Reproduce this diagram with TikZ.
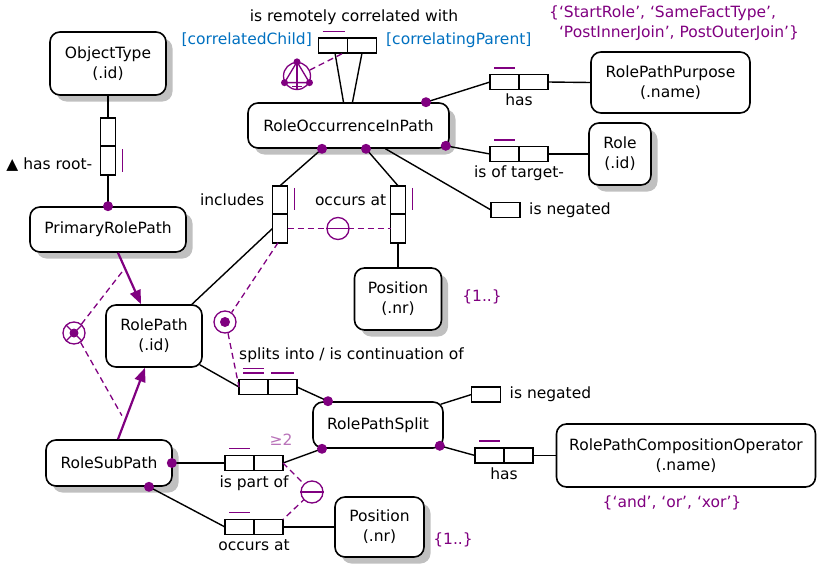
\documentclass[tikz,border=0pt]{standalone}
\usepackage{fontspec}
\setmainfont{DejaVu Sans}
\usepackage{tikz}
\usetikzlibrary{positioning,shapes,arrows.meta,shadows}

\definecolor{ormpurple}{RGB}{128,0,128}
\definecolor{ormblue}{RGB}{0,112,192}
\definecolor{shadegray}{RGB}{192,192,192}

\tikzset{
	entity/.style={draw, line width=1.6pt, rounded corners=10pt, fill=white, align=center, inner sep=0pt, font=\fontsize{15.5}{20}\selectfont},
	shadowed/.style={drop shadow={shadow xshift=6.5pt, shadow yshift=-6.5pt, fill=shadegray, opacity=1}},
	hrole/.style={draw, line width=1.6pt, fill=white, minimum width=29pt, minimum height=15pt, inner sep=0pt, outer sep=0pt},
	vrole/.style={draw, line width=1.6pt, fill=white, minimum width=15pt, minimum height=28.5pt, inner sep=0pt, outer sep=0pt},
	mand/.style={circle, fill=ormpurple, inner sep=0pt, minimum size=10pt},
	ubar/.style={ormpurple, line width=1.8pt},
	conn/.style={line width=1.4pt},
	cons/.style={ormpurple, line width=1.3pt, dash pattern=on 6pt off 4pt},
	conscirc/.style={circle, draw=ormpurple, line width=1.3pt, fill=white, minimum size=22pt, inner sep=0pt},
	subtype/.style={ormpurple, line width=2.2pt, -{Triangle[length=14pt, width=11pt]}},
	lbl/.style={font=\fontsize{15.5}{20}\selectfont, inner sep=0pt},
}

\begin{document}
\begin{tikzpicture}[x=1pt, y=-1pt]
	\useasboundingbox (0,0) rectangle (817,565);

	% Object types
	\node[entity, shadowed, minimum width=116pt, minimum height=63pt] (objecttype) at (108,63.5) {ObjectType\\(.id)};
	\node[entity, shadowed, minimum width=156pt, minimum height=45pt] (primary) at (108,229.5) {PrimaryRolePath};
	\node[entity, shadowed, minimum width=201pt, minimum height=45pt] (occurrence) at (348.5,125.5) {RoleOccurrenceInPath};
	\node[entity, minimum width=159pt, minimum height=61pt] (purpose) at (670.5,82.5) {RolePathPurpose\\(.name)};
	\node[entity, shadowed, minimum width=62pt, minimum height=62pt] (role) at (620,154) {Role\\(.id)};
	\node[entity, shadowed, minimum width=87pt, minimum height=62pt] (position) at (398,299) {Position\\(.nr)};
	\node[entity, minimum width=96pt, minimum height=62pt] (rolepath) at (154,336) {RolePath\\(.id)};
	\node[entity, minimum width=130pt, minimum height=46pt] (split) at (378,425) {RolePathSplit};
	\node[entity, minimum width=259pt, minimum height=63pt] (operator) at (686,455.5) {RolePathCompositionOperator\\(.name)};
	\node[entity, shadowed, minimum width=126pt, minimum height=46pt] (subpath) at (109,463) {RoleSubPath};
	\node[entity, shadowed, minimum width=89pt, minimum height=60pt] (position2) at (379.5,527) {Position\\(.nr)};

	% Value constraints
	\node[lbl, ormpurple, anchor=west, align=left] (purposevals) at (549,23) {\{‘StartRole’, ‘SameFactType’,\\\hphantom{\{}‘PostInnerJoin’, PostOuterJoin’\}};
	\node[lbl, ormpurple] (positionvals) at (482,297) {\{1..\}};
	\node[lbl, ormpurple] (operatorvals) at (672,503) {\{‘and’, ‘or’, ‘xor’\}};
	\node[lbl, ormpurple] (position2vals) at (453,540) {\{1..\}};

	% has root-
	\node[vrole] (hasroot1) at (108,132) {};
	\node[vrole, below=0pt of hasroot1] (hasroot2) {};
	\draw[ubar] ([shift={(7pt,-3pt)}]hasroot2.north east) -- ([shift={(7pt,3pt)}]hasroot2.south east);
	\node[lbl, left=8pt of hasroot2, yshift=-4pt] (hasrootlbl) {▲ has root-};
	\draw[conn] (objecttype) -- (hasroot1);
	\draw[conn] (hasroot2) -- (primary.north);

	% is remotely correlated with
	\node[hrole] (correlated1) at (333,45.5) {};
	\node[hrole, right=0pt of correlated1] (correlated2) {};
	\draw[ubar] ([shift={(4pt,6.5pt)}]correlated1.north west) -- ([shift={(-3pt,6.5pt)}]correlated1.north east);
	\node[lbl] (correlatedlbl) at (354,17) {is remotely correlated with};
	\node[lbl, ormblue, anchor=east] (childlbl) at (312,40) {[correlatedChild]};
	\node[lbl, ormblue, anchor=west] (parentlbl) at (386,40) {[correlatingParent]};
	\draw[conn] ([xshift=2pt]correlated1.south) -- ([xshift=-5pt]occurrence.north);
	\draw[conn] (correlated2.south) -- ([xshift=4pt]occurrence.north);

	% ring constraint
	\node[circle, draw=ormpurple, line width=1.3pt, minimum size=27pt, inner sep=0pt] (ring) at (297,76) {};
	\draw[ormpurple, line width=1.3pt] (ring.90) -- (ring.208) -- (ring.332) -- cycle;
	\draw[ormpurple, line width=1.3pt] (ring.90) -- (ring.south) ([xshift=-5pt,yshift=4pt]ring.south) -- ([xshift=5pt,yshift=4pt]ring.south);
	\fill[ormpurple] (ring.90) circle (3.5pt) (ring.208) circle (3.5pt) (ring.332) circle (3.5pt);
	\draw[cons] (ring.25) -- ([xshift=-4pt]correlated1.south east);

	% has (purpose)
	\node[hrole] (haspurpose1) at (504.5,82) {};
	\node[hrole, right=0pt of haspurpose1] (haspurpose2) {};
	\draw[ubar] ([shift={(4pt,6.5pt)}]haspurpose1.north west) -- ([shift={(-4pt,6.5pt)}]haspurpose1.north east);
	\node[lbl, below=4pt of haspurpose1.south east] (haspurposelbl) {has};

	% is of target-
	\node[hrole] (target1) at (504.5,154) {};
	\node[hrole, right=0pt of target1] (target2) {};
	\draw[ubar] ([shift={(4pt,6.5pt)}]target1.north west) -- ([shift={(-4pt,6.5pt)}]target1.north east);
	\node[lbl, below=4pt of target1.south east] (targetlbl) {is of target-};

	% is negated (occurrence)
	\node[hrole] (negated) at (505.5,210) {};
	\node[lbl, right=9pt of negated] (negatedlbl) {is negated};

	% includes
	\node[vrole] (includes1) at (280,200) {};
	\node[vrole, below=0pt of includes1] (includes2) {};
	\draw[ubar] ([shift={(7pt,-2pt)}]includes1.north east) -- ([shift={(7pt,4pt)}]includes1.south east);
	\node[lbl, left=8pt of includes1] (includeslbl) {includes};

	% occurs at (occurrence)
	\node[vrole] (occursat1) at (398,200) {};
	\node[vrole, below=0pt of occursat1] (occursat2) {};
	\draw[ubar] ([shift={(7pt,-2pt)}]occursat1.north east) -- ([shift={(7pt,4pt)}]occursat1.south east);
	\node[lbl, left=4pt of occursat1] (occursatlbl) {occurs at};

	% occurrence connectors
	\coordinate (occ-a) at ([xshift=-26.5pt]occurrence.south);
	\coordinate (occ-b) at ([xshift=17.5pt]occurrence.south);
	\coordinate (occ-c) at ([xshift=77.5pt]occurrence.north);
	\coordinate (occ-d) at ([shift={(-4pt,3pt)}]occurrence.south east);
	\coordinate (occ-e) at ([xshift=37pt]occurrence.south);
	\draw[conn] (occ-c) -- (haspurpose1.west);
	\draw[conn] (haspurpose2.east) -- (purpose.west);
	\draw[conn] (occ-d) -- (target1.west);
	\draw[conn] (target2.east) -- (role.west);
	\draw[conn] (occ-e) -- (negated.west);
	\draw[conn] (occ-a) -- (includes1.north);
	\draw[conn] (includes2.west) -- ([xshift=38pt]rolepath.north);
	\draw[conn] (occ-b) -- (occursat1.north);
	\draw[conn] (occursat2.south) -- (position.north);

	% external uniqueness (includes / occurs at)
	\draw[cons] (includes2.east) -- (occursat2.west);
	\node[conscirc] (unique1) at (338,228.5) {};
	\draw[ormpurple, line width=1.3pt] (unique1.west) -- (unique1.east);

	% subtypes
	\draw[subtype] ([xshift=10pt]primary.south) -- coordinate[pos=0.3] (primary-mid) ([xshift=-13pt]rolepath.north);
	\draw[subtype] ([xshift=9pt]subpath.north) -- coordinate[pos=0.33] (subpath-mid) ([xshift=-9pt]rolepath.south);

	% exclusive-or constraint
	\node[circle, draw=ormpurple, line width=1.3pt, minimum size=22pt, inner sep=0pt] (xor) at (74,333) {};
	\draw[ormpurple, line width=1.3pt] (xor.45) -- (xor.225) (xor.135) -- (xor.315);
	\fill[ormpurple] (xor) circle (4.5pt);
	\draw[cons] (xor.50) -- (primary-mid);
	\draw[cons] (xor.-55) -- ([xshift=-5pt]subpath-mid);

	% splits into / is continuation of
	\node[hrole] (splits1) at (253.5,387) {};
	\node[hrole, right=0pt of splits1] (splits2) {};
	\draw[ubar] ([shift={(4pt,11pt)}]splits1.north west) -- ([shift={(-4pt,11pt)}]splits1.north east);
	\draw[ubar] ([shift={(4pt,6.5pt)}]splits1.north west) -- ([shift={(-4pt,6.5pt)}]splits1.north east);
	\draw[ubar] ([shift={(3pt,6.5pt)}]splits2.north west) -- ([shift={(-3pt,6.5pt)}]splits2.north east);
	\node[lbl, anchor=west] (splitslbl) at (239,355) {splits into / is continuation of};
	\draw[conn] ([shift={(-3pt,3pt)}]rolepath.south east) -- (splits1.west);

	% inclusive-or constraint
	\node[circle, draw=ormpurple, line width=1.3pt, minimum size=22pt, inner sep=0pt] (incor) at (225,322) {};
	\fill[ormpurple] (incor) circle (5pt);
	\draw[cons] ([xshift=-2pt]includes2.south) -- (incor.55);
	\draw[cons] (incor.-75) -- (splits1.west);

	% RolePathSplit facts
	\coordinate (split-a) at ([xshift=-50pt]split.north);
	\coordinate (split-b) at ([xshift=-56pt]split.south);
	\coordinate (split-c) at ([shift={(-4pt,3pt)}]split.south east);
	\draw[conn] (splits2.east) -- (split-a);
	\node[hrole] (splitnegated) at (486,394.5) {};
	\node[lbl, right=9pt of splitnegated] (splitnegatedlbl) {is negated};
	\draw[conn] ([shift={(-3pt,-3pt)}]split.north east) -- (splitnegated.west);
	\node[hrole] (hasoperator1) at (489.5,455.5) {};
	\node[hrole, right=0pt of hasoperator1] (hasoperator2) {};
	\draw[ubar] ([shift={(4pt,7pt)}]hasoperator1.north west) -- ([shift={(-4pt,7pt)}]hasoperator1.north east);
	\node[lbl, below=5pt of hasoperator1.south east] (hasoperatorlbl) {has};
	\draw[conn] (split-c) -- (hasoperator1.west);
	\draw[conn] (hasoperator2.east) -- (operator.west);

	% is part of
	\node[hrole] (partof1) at (239.5,463) {};
	\node[hrole, right=0pt of partof1] (partof2) {};
	\draw[ubar] ([shift={(4pt,7pt)}]partof1.north west) -- ([shift={(-4pt,7pt)}]partof1.north east);
	\node[lbl, below=5pt of partof1.south east] (partoflbl) {is part of};
	\node[lbl, ormpurple!55] (partofcount) at (281,440) {≥2};
	\coordinate (subpath-a) at ([xshift=-1pt]subpath.east);
	\coordinate (subpath-b) at ([xshift=40pt]subpath.south);
	\draw[conn] (subpath-a) -- (partof1.west);
	\draw[conn] (partof2.east) -- (split-b);

	% occurs at (subpath)
	\node[hrole] (subat1) at (239.5,527) {};
	\node[hrole, right=0pt of subat1] (subat2) {};
	\draw[ubar] ([shift={(4pt,7pt)}]subat1.north west) -- ([shift={(-4pt,7pt)}]subat1.north east);
	\node[lbl, below=5pt of subat1.south east] (subatlbl) {occurs at};
	\draw[conn] (subpath-b) -- (subat1.west);
	\draw[conn] (subat2.east) -- (position2.west);

	% external uniqueness (is part of / occurs at)
	\draw[cons] (partof2.east) -- (312,492) -- (subat2.north east);
	\node[conscirc] (unique2) at (312,492) {};
	\draw[ormpurple, line width=1.3pt] (unique2.west) -- (unique2.east);

	% mandatory dots
	\node[mand] at (primary.north) {};
	\foreach \d in {occ-a, occ-b, occ-c, occ-d, split-a, split-b, split-c, subpath-a, subpath-b}
		\node[mand] at (\d) {};
\end{tikzpicture}
\end{document}
